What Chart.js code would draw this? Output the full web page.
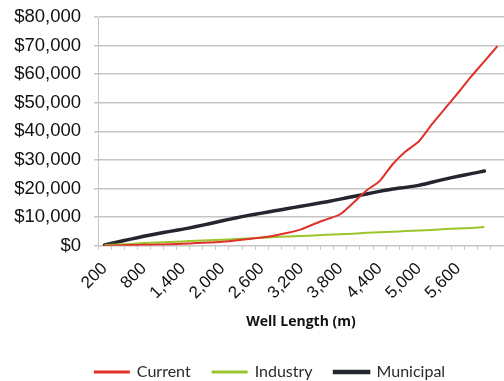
<!DOCTYPE html>
<html>
<head>
<meta charset="utf-8">
<script src="https://cdn.jsdelivr.net/npm/chart.js@4/dist/chart.umd.min.js"></script>
<style>
    html, body { margin: 0; padding: 0; background: #fff; }
    #wrap { width: 504px; height: 381px; }
</style>
</head>
<body>
<div id="wrap"><canvas id="wellChart"></canvas></div>
<script>
// well length categories (m)
const lengths = [200, 400, 600, 800, 1000, 1200, 1400, 1600, 1800, 2000,
    2200, 2400, 2600, 2800, 3000, 3200, 3400, 3600, 3800, 4000,
    4200, 4400, 4600, 4800, 5000, 5200, 5400, 5600, 5800, 6000, 6200];

const current = [0, 100, 200, 300, 400, 500, 700, 900, 1100, 1400,
    1800, 2300, 2900, 3600, 4500, 5700, 7600, 9300, 11000, 15000,
    19300, 22600, 28500, 33000, 36500, 42500, 48000, 53500, 59200, 64500, 69800];

const industry = [200, 400, 600, 900, 1100, 1300, 1500, 1700, 1900, 2100,
    2300, 2500, 2800, 3000, 3200, 3400, 3600, 3800, 4000, 4200,
    4500, 4700, 4900, 5100, 5300, 5500, 5800, 6000, 6200, 6500, null];

const municipal = [300, 1300, 2300, 3300, 4200, 5000, 5800, 6700, 7700, 8700,
    9700, 10600, 11400, 12200, 13000, 13800, 14600, 15400, 16300, 17200,
    18100, 19000, 19800, 20400, 21100, 22200, 23300, 24300, 25200, 26100, null];

// only every third length gets a label, up to 5,600
const labelEvery = 3;
const lastLabelled = 5600;

// legend sits a bit lower and right of where chart.js puts it
const legendShift = {
    id: 'legendShift',
    afterLayout(chart) {
        const lg = chart.legend;
        lg.top += 11;
        lg.bottom += 11;
        lg.left += 18;
        lg.right += 18;
    }
};

const ctx = document.getElementById('wellChart').getContext('2d');

new Chart(ctx, {
    type: 'line',
    data: {
        labels: lengths,
        datasets: [{
            label: 'Current',
            data: current,
            borderColor: '#e0302a',
            backgroundColor: '#e0302a',
            borderWidth: 2,
            pointRadius: 0,
            tension: 0.2
        }, {
            label: 'Industry',
            data: industry,
            borderColor: '#9cc42c',
            backgroundColor: '#9cc42c',
            borderWidth: 2,
            pointRadius: 0,
            tension: 0.2
        }, {
            label: 'Municipal',
            data: municipal,
            borderColor: '#23262e',
            backgroundColor: '#23262e',
            borderWidth: 3.5,
            borderCapStyle: 'round',
            pointRadius: 0,
            tension: 0.2
        }]
    },
    plugins: [legendShift],
    options: {
        responsive: true,
        maintainAspectRatio: false,
        animation: false,
        layout: {
            padding: { left: 0, right: 0, top: 17, bottom: 2 }
        },
        plugins: {
            tooltip: { enabled: false },
            legend: {
                position: 'bottom',
                labels: {
                    boxWidth: 34,
                    boxHeight: 1,
                    padding: 22,
                    color: '#2a2a2a',
                    font: { family: 'Lato, "Open Sans", sans-serif', size: 16 }
                }
            }
        },
        scales: {
            x: {
                offset: true,
                afterFit: function (scale) {
                    // plot runs to the right edge, like the original
                    scale.paddingRight = 0;
                },
                grid: {
                    display: true,
                    drawOnChartArea: false,
                    offset: true,
                    tickLength: 4,
                    color: '#c8c8c8'
                },
                border: { color: '#c8c8c8' },
                ticks: {
                    autoSkip: false,
                    maxRotation: 45,
                    minRotation: 45,
                    padding: 9,
                    color: '#111',
                    font: { family: '"Liberation Sans", Arial, sans-serif', size: 17 },
                    callback: function (value, index) {
                        const len = lengths[index];
                        if (index % labelEvery === 0 && len <= lastLabelled) {
                            return len.toLocaleString('en-US');
                        }
                        return '';
                    }
                },
                title: {
                    display: true,
                    text: 'Well Length (m)',
                    color: '#111',
                    padding: { top: 1, bottom: 1 },
                    font: { family: '"Open Sans", sans-serif', size: 14, weight: 'bold' }
                }
            },
            y: {
                min: 0,
                max: 80000,
                afterFit: function (scale) {
                    scale.width = 98;
                    scale.paddingTop = 0;
                    scale.paddingBottom = 0;
                },
                grid: {
                    color: '#c4c4c4',
                    lineWidth: 1.5,
                    tickLength: 4
                },
                border: { color: '#c4c4c4' },
                ticks: {
                    stepSize: 10000,
                    padding: 13,
                    color: '#111',
                    font: { family: '"Liberation Sans", Arial, sans-serif', size: 18.5 },
                    callback: function (value) {
                        return '$' + value.toLocaleString('en-US');
                    }
                }
            }
        }
    }
});
</script>
</body>
</html>
